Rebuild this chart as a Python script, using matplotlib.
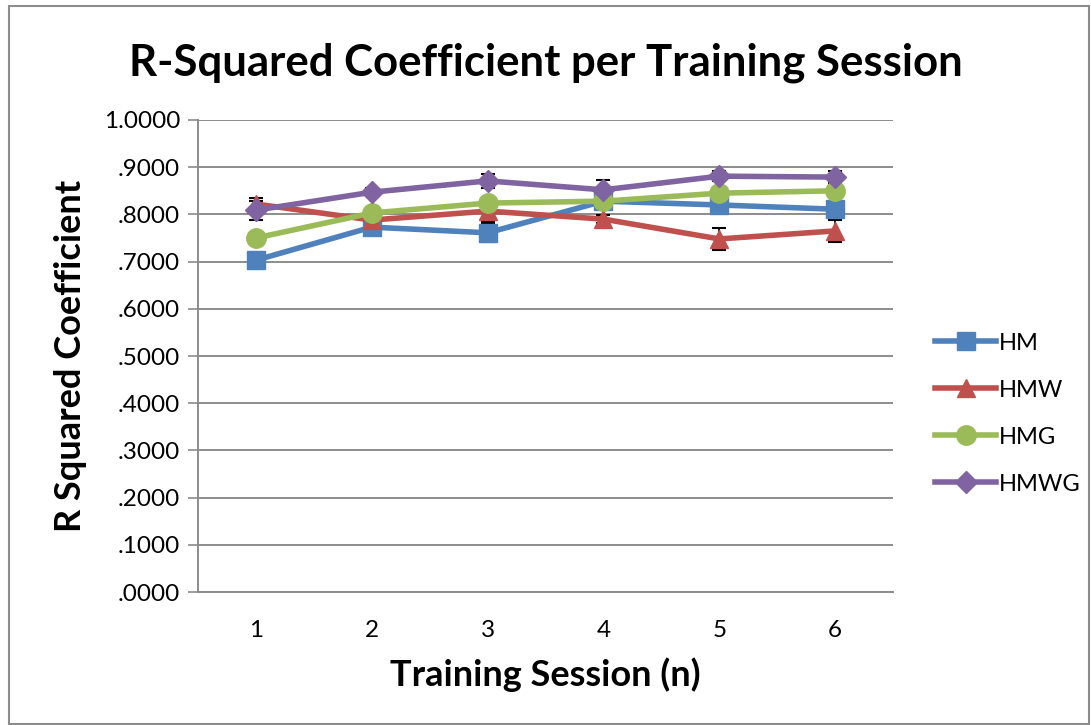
import matplotlib.pyplot as plt
from matplotlib.ticker import FuncFormatter
from matplotlib.patches import Rectangle

sessions = [1, 2, 3, 4, 5, 6]
series_names = ['HM', 'HMW', 'HMG', 'HMWG']

hm = [0.703, 0.773, 0.761, 0.828, 0.820, 0.811]
hmw = [0.822, 0.788, 0.807, 0.790, 0.748, 0.765]
hmg = [0.750, 0.803, 0.824, 0.828, 0.845, 0.850]
hmwg = [0.809, 0.847, 0.871, 0.852, 0.881, 0.879]

hm_err = [0.006, 0.008, 0.020, 0.008, 0.008, 0.006]
hmw_err = [0.013, 0.008, 0.020, 0.008, 0.024, 0.023]
hmg_err = [0.006, 0.006, 0.006, 0.006, 0.006, 0.006]
hmwg_err = [0.020, 0.008, 0.015, 0.020, 0.011, 0.013]

colors = ['#4F81BD', '#C0504D', '#9BBB59', '#8064A2']
markers = ['s', '^', 'o', 'D']
msizes = [13, 13, 14, 11]

plt.rcParams['font.family'] = ['Lato', 'DejaVu Sans']

fig = plt.figure(figsize=(10.91, 7.25), dpi=100)
ax = fig.add_axes([0.1815, 0.1834, 0.6370, 0.6511])

all_vals = [hm, hmw, hmg, hmwg]
all_errs = [hm_err, hmw_err, hmg_err, hmwg_err]
for i, name in enumerate(series_names):
    ax.errorbar(sessions, all_vals[i], yerr=all_errs[i], fmt='none',
                ecolor='black', elinewidth=1.2, capsize=5, capthick=1.5,
                zorder=2)
    ax.plot(sessions, all_vals[i], color=colors[i], marker=markers[i],
            markersize=msizes[i], linewidth=4.0, label=name, zorder=3)

ax.set_xlim(0.5, 6.5)
ax.set_ylim(0, 1.0)
ax.set_yticks([i / 10 for i in range(11)])
ax.yaxis.set_major_formatter(FuncFormatter(
    lambda v, p: f'{v:.4f}'.lstrip('0') if v < 0.99999 else f'{v:.4f}'))
ax.set_xticks(sessions)
ax.grid(axis='y', color='#8c8c8c', linewidth=1.4)
ax.set_axisbelow(True)

for s in ['top', 'right']:
    ax.spines[s].set_visible(False)
for s in ['left', 'bottom']:
    ax.spines[s].set_color('#8c8c8c')
    ax.spines[s].set_linewidth(1.4)
ax.tick_params(axis='y', length=7, color='#8c8c8c', width=1.2,
               labelsize=17.5, pad=6)
ax.tick_params(axis='x', length=0, labelsize=17.5, pad=20)

ax.set_title('R-Squared Coefficient per Training Session', fontsize=31.5,
             fontweight='bold', pad=32)
ax.set_xlabel('Training Session (n)', fontsize=26, fontweight='bold',
              labelpad=12)
ax.set_ylabel('R Squared Coefficient', fontsize=26, fontweight='bold',
              labelpad=12)

ax.legend(loc='center left', bbox_to_anchor=(1.03, 0.378), frameon=False,
          fontsize=17, handlelength=2.6, labelspacing=1.1,
          handletextpad=0.1)

fig.patches.append(Rectangle((0.008, 0.002), 0.99, 0.99, transform=fig.transFigure,
                             fill=False, edgecolor='#8c8c8c', linewidth=1.5))

fig.savefig('out.png', dpi=100)
